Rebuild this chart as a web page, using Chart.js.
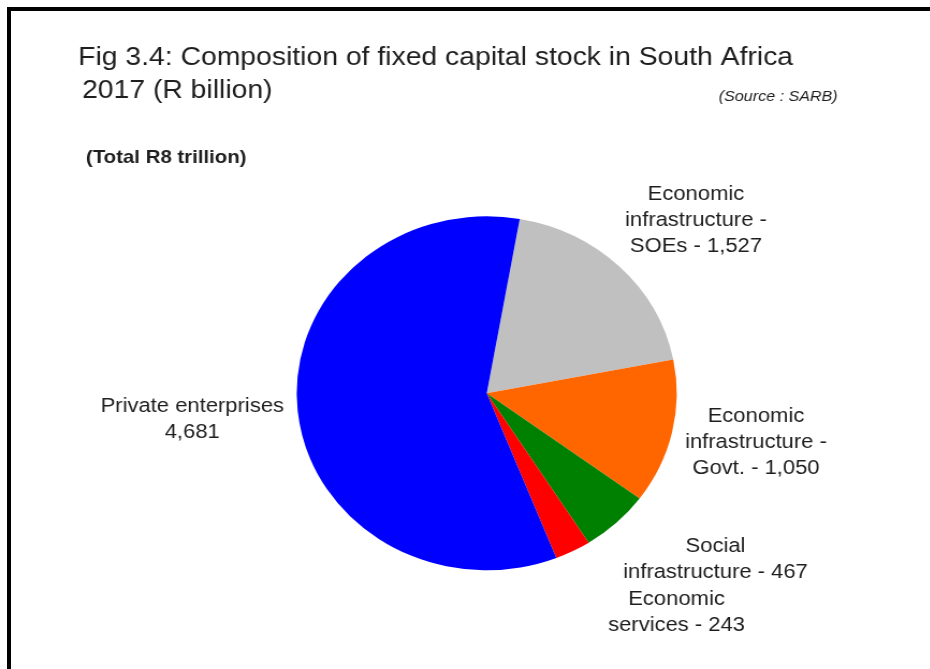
<!DOCTYPE html>
<html>
<head>
<meta charset="utf-8">
<script src="https://cdn.jsdelivr.net/npm/chart.js@4.4.1/dist/chart.umd.min.js"></script>
<style>
  html, body { margin: 0; padding: 0; background: #fff; }
  body { width: 930px; height: 669px; position: relative; overflow: hidden; }
  #frame { position: absolute; left: 7px; top: 7px; right: -10px; bottom: -10px;
           border-top: 4px solid #000; border-left: 4px solid #000; }
  #chart { position: absolute; left: 0; top: 0; transform-origin: 0 0; }
</style>
</head>
<body>
<div id="frame"></div>
<canvas id="chart"></canvas>
<script>
// Fixed capital stock by owner / type, 2017, R billion (SARB)
const categories = [
  "Economic infrastructure - SOEs",
  "Economic infrastructure - Govt.",
  "Social infrastructure",
  "Economic services",
  "Private enterprises"
];
const values = [1527, 1050, 467, 243, 4681];
const sliceColors = ["#c0c0c0", "#ff6600", "#008000", "#ff0000", "#0000ff"];
// Label wording per slice; {v} is replaced by the slice value
const labelLines = [
  ["Economic", "infrastructure -", "SOEs - {v}"],
  ["Economic", "infrastructure -", "Govt. - {v}"],
  ["Social", "infrastructure - {v}"],
  ["Economic", "services - {v}"],
  ["Private enterprises", "{v}"]
];
const titleLines = ["Fig 3.4: Composition of fixed capital stock in South Africa", "2017 (R billion)"];
const sourceText = "(Source : SARB)";
const totalText = "(Total R8 trillion)";

// Drawing is done on a slightly narrower canvas that is widened horizontally
const STRETCH = 1.0735;
const W = Math.round(930 / STRETCH), H = 669;
const canvas = document.getElementById("chart");
canvas.width = W; canvas.height = H;
canvas.style.width = W + "px"; canvas.style.height = H + "px";
canvas.style.transform = "scaleX(" + STRETCH + ")";

const PIE_CX = 453.4, PIE_CY = 393.3, PIE_R = 177;
// label anchors: centre x, first baseline
const labelAnchors = [
  { x: 648.3, y: 200.0 },
  { x: 704.2, y: 421.7 },
  { x: 666.5, y: 551.7 },
  { x: 630.2, y: 605.0 },
  { x: 179.1, y: 411.7 }
];
const LINE_H = 26.2;
const TEXT_COLOR = "#1e1e1e";

const fmt = v => v.toLocaleString("en-US");

const textPlugin = {
  id: "textLayer",
  afterDraw(chart) {
    const ctx = chart.ctx;
    ctx.save();
    ctx.fillStyle = TEXT_COLOR;
    ctx.textBaseline = "alphabetic";

    ctx.textAlign = "left";
    ctx.font = "26.4px 'Liberation Sans', Arial, sans-serif";
    ctx.fillText(titleLines[0], 72.8, 65);
    ctx.fillText(titleLines[1], 76.4, 98);

    ctx.font = "italic 15px 'Liberation Sans', Arial, sans-serif";
    ctx.fillText(sourceText, 669.5, 101);

    ctx.font = "bold 19px 'Liberation Sans', Arial, sans-serif";
    ctx.fillText(totalText, 80.1, 163);

    ctx.textAlign = "center";
    ctx.font = "20.5px 'Liberation Sans', Arial, sans-serif";
    labelLines.forEach((lines, i) => {
      const a = labelAnchors[i];
      lines.forEach((ln, j) => {
        ctx.fillText(ln.replace("{v}", fmt(values[i])), a.x, a.y + j * LINE_H);
      });
    });
    ctx.restore();
  }
};

new Chart(canvas, {
  type: "pie",
  data: {
    labels: categories,
    datasets: [{
      data: values,
      backgroundColor: sliceColors,
      borderWidth: 0,
      hoverOffset: 0
    }]
  },
  options: {
    responsive: false,
    animation: false,
    devicePixelRatio: 1,
    rotation: 10,
    radius: PIE_R,
    layout: {
      padding: {
        left: PIE_CX - PIE_R,
        right: W - (PIE_CX + PIE_R),
        top: PIE_CY - PIE_R,
        bottom: H - (PIE_CY + PIE_R)
      }
    },
    plugins: {
      legend: { display: false },
      tooltip: { enabled: false },
      title: { display: false }
    },
    events: []
  },
  plugins: [textPlugin]
});
</script>
</body>
</html>
